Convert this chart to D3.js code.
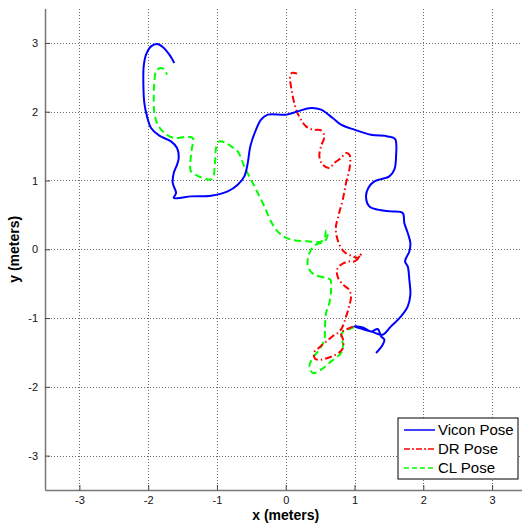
<!DOCTYPE html>
<html>
<head>
<meta charset="utf-8">
<script src="https://cdn.jsdelivr.net/npm/d3@7"></script>
<style>
  body { margin: 0; background: #fff; }
  svg { display: block; font-family: "Liberation Sans", Arial, sans-serif; }
</style>
</head>
<body>
<script>
// poses in meters
const viconX = [1.313, 1.410, 1.434, 1.386, 1.338, 1.240, 1.120, 0.997, 1.124, 1.269, 1.410, 1.531, 1.676, 1.774, 1.812, 1.797, 1.774, 1.735, 1.797, 1.812, 1.774, 1.724, 1.701, 1.531, 1.338, 1.215, 1.167, 1.201, 1.288, 1.506, 1.579, 1.604, 1.589, 1.483, 1.240, 0.997, 0.804, 0.683, 0.513, 0.368, 0.174, 0.004, -0.262, -0.359, -0.432, -0.515, -0.552, -0.602, -0.698, -0.843, -1.086, -1.377, -1.547, -1.628, -1.595, -1.643, -1.628, -1.580, -1.556, -1.580, -1.668, -1.838, -1.958, -2.017, -2.056, -2.070, -2.065, -2.031, -1.958, -1.871, -1.788, -1.692, -1.620];
const viconY = [-1.508, -1.387, -1.314, -1.266, -1.159, -1.194, -1.136, -1.121, -1.162, -1.205, -1.242, -1.121, -0.976, -0.830, -0.660, -0.442, -0.249, -0.176, -0.031, 0.092, 0.237, 0.382, 0.528, 0.551, 0.576, 0.624, 0.769, 0.891, 0.987, 1.060, 1.157, 1.351, 1.604, 1.641, 1.666, 1.739, 1.812, 1.909, 2.030, 2.054, 2.005, 1.957, 1.957, 1.884, 1.739, 1.496, 1.255, 1.060, 0.939, 0.842, 0.779, 0.769, 0.746, 0.746, 0.819, 0.964, 1.109, 1.230, 1.327, 1.473, 1.569, 1.652, 1.764, 1.932, 2.127, 2.418, 2.659, 2.829, 2.950, 2.985, 2.941, 2.829, 2.709];

const drX = [0.978, 0.877, 0.804, 0.833, 0.833, 0.775, 0.659, 0.513, 0.426, 0.411, 0.484, 0.586, 0.673, 0.760, 0.819, 0.877, 0.920, 0.949, 0.920, 0.833, 0.760, 0.746, 0.804, 0.906, 0.993, 1.066, 1.095, 1.051, 0.949, 0.848, 0.775, 0.731, 0.731, 0.760, 0.789, 0.829, 0.877, 0.925, 0.939, 0.925, 0.877, 0.804, 0.707, 0.634, 0.538, 0.489, 0.513, 0.561, 0.513, 0.393, 0.295, 0.222, 0.150, 0.106, 0.077, 0.063, 0.092, 0.164];
const drY = [-1.125, -1.169, -1.213, -1.314, -1.431, -1.503, -1.562, -1.605, -1.591, -1.503, -1.431, -1.343, -1.271, -1.213, -1.140, -0.980, -0.835, -0.689, -0.587, -0.515, -0.413, -0.297, -0.224, -0.180, -0.180, -0.122, -0.064, -0.122, -0.093, -0.035, 0.081, 0.241, 0.343, 0.459, 0.576, 0.721, 0.964, 1.157, 1.303, 1.375, 1.400, 1.327, 1.255, 1.182, 1.230, 1.351, 1.496, 1.641, 1.729, 1.739, 1.787, 1.884, 2.030, 2.204, 2.364, 2.495, 2.563, 2.553];

const clX = [0.997, 0.906, 0.833, 0.804, 0.833, 0.804, 0.659, 0.513, 0.393, 0.343, 0.393, 0.489, 0.561, 0.571, 0.586, 0.634, 0.659, 0.648, 0.586, 0.416, 0.329, 0.320, 0.368, 0.441, 0.538, 0.586, 0.611, 0.586, 0.571, 0.513, 0.320, 0.077, -0.068, -0.189, -0.311, -0.407, -0.505, -0.602, -0.698, -0.795, -0.868, -0.965, -1.013, -1.028, -1.061, -1.111, -1.377, -1.387, -1.367, -1.352, -1.450, -1.620, -1.765, -1.861, -1.910, -1.919, -1.910, -1.886, -1.823, -1.765, -1.726];
const clY = [-1.130, -1.169, -1.198, -1.271, -1.387, -1.508, -1.630, -1.751, -1.798, -1.703, -1.580, -1.460, -1.314, -1.125, -0.926, -0.781, -0.587, -0.442, -0.417, -0.369, -0.272, -0.151, -0.006, 0.067, 0.100, 0.140, 0.237, 0.270, 0.183, 0.110, 0.115, 0.140, 0.212, 0.358, 0.624, 0.819, 1.012, 1.205, 1.423, 1.496, 1.545, 1.569, 1.473, 1.255, 1.037, 1.012, 1.133, 1.255, 1.448, 1.618, 1.633, 1.618, 1.691, 1.812, 1.982, 2.223, 2.418, 2.587, 2.636, 2.611, 2.539];

const ticks = [-3, -2, -1, 0, 1, 2, 3];
const seriesNames = ["Vicon Pose", "DR Pose", "CL Pose"];

const width = 522, height = 526;
const margin = { left: 45, top: 9, bottom: 36 };
const unit = 68.78;

const x = d3.scaleLinear().domain([-3.5, 3.5]).range([margin.left, margin.left + 7 * unit]);
const y = d3.scaleLinear().domain([-3.5, 3.5]).range([height - margin.bottom, height - margin.bottom - 7 * unit]);

const svg = d3.select("body").append("svg")
  .attr("width", width)
  .attr("height", height);

svg.append("defs").append("clipPath").attr("id", "plot")
  .append("rect")
  .attr("x", x.range()[0]).attr("y", y.range()[1])
  .attr("width", x.range()[1] - x.range()[0])
  .attr("height", y.range()[0] - y.range()[1]);

// dotted grid
const grid = svg.append("g").attr("stroke", "#6a6a6a").attr("stroke-width", 1).attr("stroke-dasharray", "1,2");
grid.selectAll("line.gx").data(ticks).enter().append("line")
  .attr("x1", d => Math.round(x(d)) + 0.5).attr("x2", d => Math.round(x(d)) + 0.5)
  .attr("y1", y.range()[0]).attr("y2", y.range()[1]);
grid.selectAll("line.gy").data(ticks).enter().append("line")
  .attr("y1", d => Math.round(y(d)) + 0.5).attr("y2", d => Math.round(y(d)) + 0.5)
  .attr("x1", x.range()[0]).attr("x2", x.range()[1]);

// axes, MATLAB style ticks pointing inward, plain hyphen minus
const fmt = d => String(d);
const xAxis = d3.axisBottom(x).tickValues(ticks).tickFormat(fmt).tickSizeInner(-5).tickSizeOuter(0).tickPadding(6);
const yAxis = d3.axisLeft(y).tickValues(ticks).tickFormat(fmt).tickSizeInner(-5).tickSizeOuter(0).tickPadding(7);

const gx = svg.append("g")
  .attr("transform", `translate(0, ${y.range()[0]})`)
  .call(xAxis);
const gy = svg.append("g")
  .attr("transform", `translate(${x.range()[0]}, 0)`)
  .call(yAxis);

[gx, gy].forEach(g => {
  g.select(".domain").attr("stroke", "#777").attr("stroke-width", 1.5);
  g.selectAll(".tick line").attr("stroke", "#444");
  g.selectAll(".tick text").attr("font-size", 11).attr("fill", "#111").attr("font-family", "Liberation Sans, Arial, sans-serif");
});

// pose traces
const line = d3.line()
  .x(d => x(d[0]))
  .y(d => y(d[1]))
  .curve(d3.curveCatmullRom.alpha(0.5));

const series = [
  { name: seriesNames[0], pts: d3.zip(viconX, viconY), color: "#0000ff", dash: null },
  { name: seriesNames[1], pts: d3.zip(drX, drY), color: "#ff0000", dash: "7,3,1.5,3" },
  { name: seriesNames[2], pts: d3.zip(clX, clY), color: "#00ff00", dash: "7,4" }
];

const traces = svg.append("g").attr("clip-path", "url(#plot)");
traces.selectAll("path")
  .data([series[2], series[1], series[0]])
  .enter().append("path")
  .attr("d", d => line(d.pts))
  .attr("fill", "none")
  .attr("stroke", d => d.color)
  .attr("stroke-width", 2)
  .attr("stroke-dasharray", d => d.dash)
  .attr("stroke-linejoin", "round");

// axis titles
svg.append("text")
  .attr("x", x(0)).attr("y", 520)
  .attr("text-anchor", "middle")
  .attr("font-size", 14).attr("font-weight", "bold")
  .text("x (meters)");
svg.append("text")
  .attr("transform", `translate(19, ${y(0)}) rotate(-90)`)
  .attr("text-anchor", "middle")
  .attr("font-size", 14).attr("font-weight", "bold")
  .text("y (meters)");

// legend
const legend = svg.append("g").attr("transform", "translate(398, 418)");
legend.append("rect")
  .attr("width", 120).attr("height", 61)
  .attr("fill", "#fff").attr("stroke", "#000").attr("stroke-width", 1);
const items = legend.selectAll("g.item").data(series).enter().append("g")
  .attr("transform", (d, i) => `translate(0, ${12 + i * 19})`);
items.append("line")
  .attr("x1", 6).attr("x2", 37)
  .attr("stroke", d => d.color).attr("stroke-width", 1.5)
  .attr("stroke-dasharray", d => d.dash ? (d.color === "#ff0000" ? "6,2,2,2" : "5,3") : null);
items.append("text")
  .attr("x", 40).attr("dy", "0.35em")
  .attr("font-size", 15)
  .text(d => d.name);
</script>
</body>
</html>
